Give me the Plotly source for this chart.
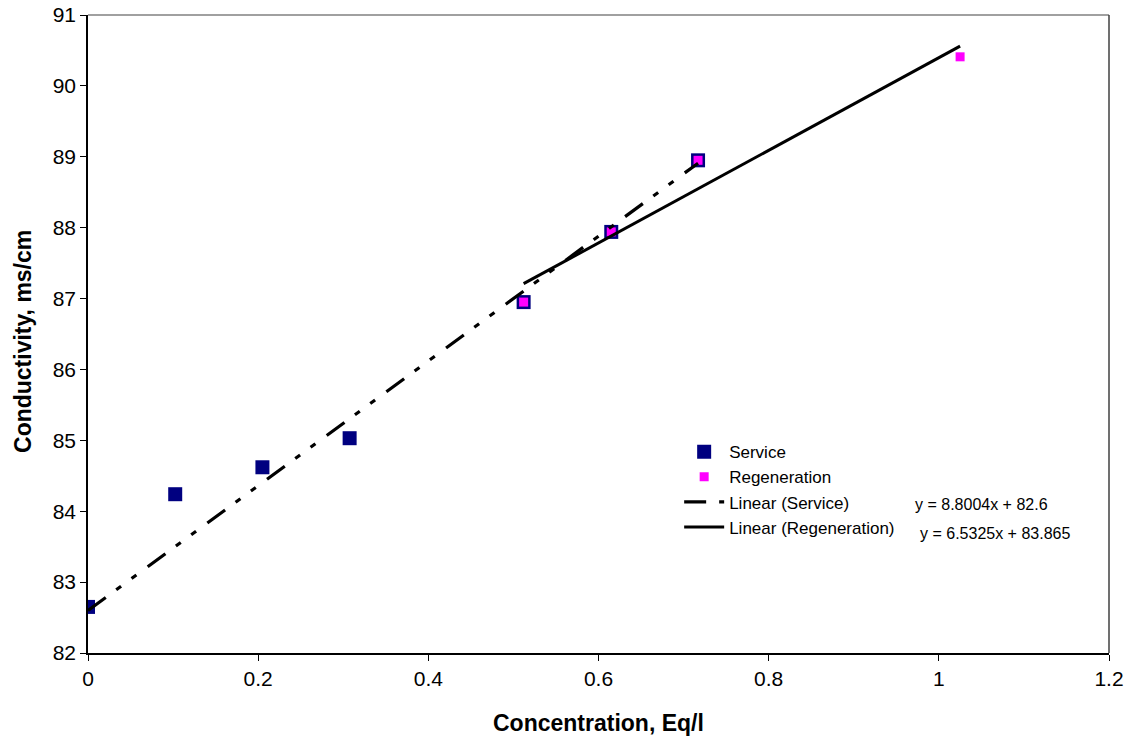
import numpy as np
import plotly.graph_objects as go

service_x = [0.0, 0.1025, 0.205, 0.3075, 0.512, 0.615, 0.717]
service_y = [82.65, 84.24, 84.62, 85.03, 86.95, 87.94, 88.95]
regen_x = [0.512, 0.615, 0.717, 1.025]
regen_y = [86.95, 87.94, 88.95, 90.41]

service_fit = [8.8004, 82.6]     # slope, intercept (as labelled)
regen_fit = [6.5325, 83.865]

x_ticks = [0, 0.2, 0.4, 0.6, 0.8, 1, 1.2]
y_ticks = [82, 83, 84, 85, 86, 87, 88, 89, 90, 91]

font = "Liberation Sans, Arial, sans-serif"

sx = np.array([min(service_x), max(service_x)])
rx = np.array([min(regen_x), max(regen_x)])

fig = go.Figure()
fig.add_trace(go.Scatter(x=service_x, y=service_y, mode="markers", name="Service",
                         marker=dict(symbol="square", size=14, color="#000080",
                                     line=dict(width=0))))
fig.add_trace(go.Scatter(x=regen_x, y=regen_y, mode="markers", name="Regeneration",
                         marker=dict(symbol="square", size=9, color="#FF00FF",
                                     line=dict(width=0))))
fig.add_trace(go.Scatter(x=sx, y=service_fit[0] * sx + service_fit[1], mode="lines",
                         name="Linear (Service)",
                         line=dict(color="black", width=3.2,
                                   dash="22px,13px,6px,13px,6px,14px")))
fig.add_trace(go.Scatter(x=rx, y=regen_fit[0] * rx + regen_fit[1], mode="lines",
                         name="Linear (Regeneration)",
                         line=dict(color="black", width=3)))

fig.add_annotation(x=0.97, y=84.09, xref="x", yref="y", showarrow=False, xanchor="left",
                   text="y = 8.8004x + 82.6", font=dict(family=font, size=16, color="black"))
fig.add_annotation(x=0.9756, y=83.69, xref="x", yref="y", showarrow=False, xanchor="left",
                   text="y = 6.5325x + 83.865", font=dict(family=font, size=16, color="black"))

# axis titles
fig.add_annotation(x=0.5, y=0, xref="paper", yref="paper", yshift=-70, showarrow=False,
                   xanchor="center", yanchor="middle",
                   text="<b>Concentration, Eq/l</b>", font=dict(family=font, size=23, color="black"))
fig.add_annotation(x=0, y=0.4875, xref="paper", yref="paper", xshift=-65, showarrow=False,
                   xanchor="center", yanchor="middle", textangle=-90,
                   text="<b>Conductivity, ms/cm</b>", font=dict(family=font, size=23, color="black"))

# plot-area frame: grey top, dark right
fig.add_shape(type="line", xref="paper", yref="paper", x0=0, x1=1, y0=1, y1=1,
              line=dict(color="#808080", width=1.5))
fig.add_shape(type="line", xref="paper", yref="paper", x0=1, x1=1, y0=0, y1=1,
              line=dict(color="#404040", width=1.5))

fig.update_layout(
    width=1137, height=742,
    margin=dict(l=88, r=28, t=15, b=89, autoexpand=False),
    paper_bgcolor="white", plot_bgcolor="white",
    font=dict(family=font, color="black", size=21),
    legend=dict(x=0.579, y=0.343, xanchor="left", yanchor="top",
                bgcolor="rgba(0,0,0,0)", font=dict(size=17, family=font),
                tracegroupgap=0, itemwidth=40),
    showlegend=True,
)
fig.update_xaxes(range=[0, 1.2], tickvals=x_ticks, ticktext=[str(v) for v in x_ticks],
                 showgrid=False, zeroline=False, showline=True, linecolor="black", linewidth=1.5,
                 ticks="outside", ticklen=6, tickcolor="black", ticklabeloverflow="allow",
                 tickfont=dict(size=21), automargin=False)
fig.update_yaxes(range=[82, 91], tickvals=y_ticks,
                 showgrid=False, zeroline=False, showline=True, linecolor="black", linewidth=1.5,
                 ticks="outside", ticklen=6, tickcolor="black", ticklabeloverflow="allow",
                 tickfont=dict(size=21), automargin=False)

fig.write_html("out.html", config={"displayModeBar": False},
               post_script="document.body.style.margin='0';")
